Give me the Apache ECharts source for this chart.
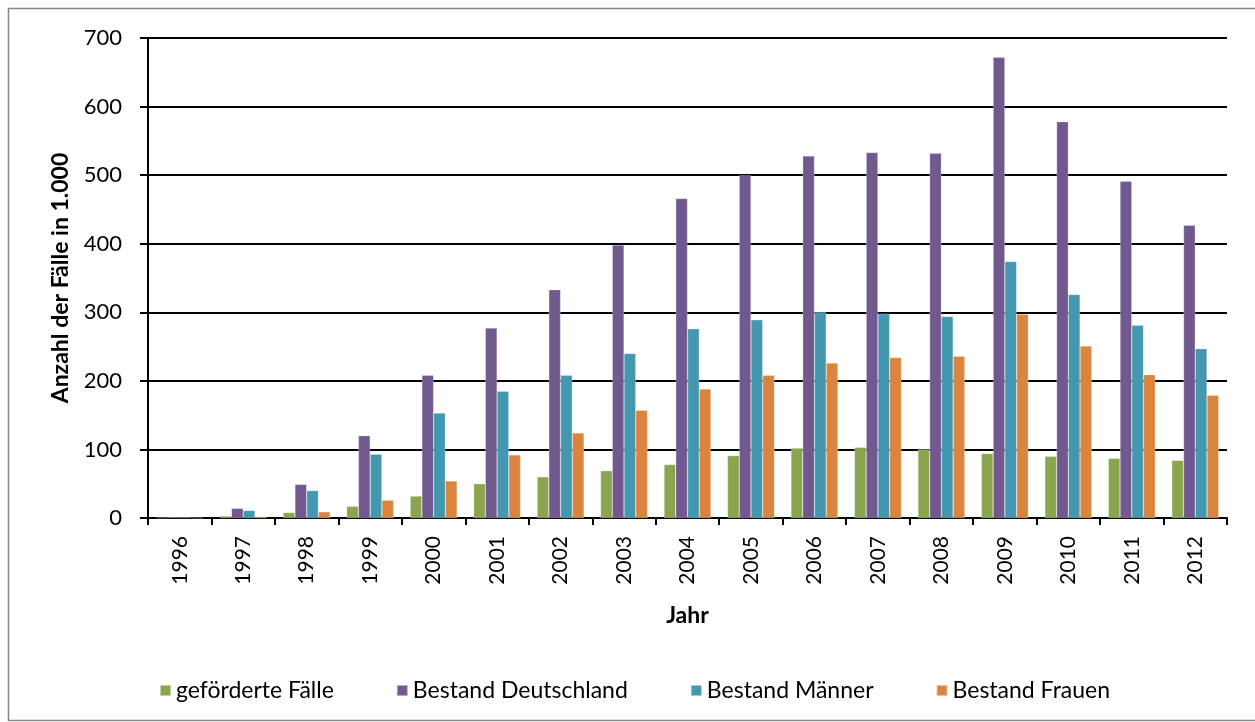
<!DOCTYPE html>
<html>
<head>
<meta charset="utf-8">
<title>Anzahl der Fälle</title>
<style>
  html, body { margin: 0; padding: 0; background: #fff; }
</style>
</head>
<body>
<div id="main" style="width:1255px;height:722px;"></div>
<script src="https://cdn.jsdelivr.net/npm/echarts@6/dist/echarts.min.js"></script>
<script>
// Jahre
var jahre = ['1996','1997','1998','1999','2000','2001','2002','2003','2004','2005','2006','2007','2008','2009','2010','2011','2012'];
// Werte in 1.000
var gefoerdert  = [0.5, 3, 8, 17, 32, 50, 60, 69, 78, 91, 102, 103, 100, 94, 90, 87, 84];
var bestandDE   = [1.5, 14, 49, 120, 208, 277, 333, 398, 466, 500, 528, 533, 532, 672, 578, 491, 427];
var maenner     = [1, 11, 40, 93, 153, 185, 208, 240, 276, 289, 300, 298, 294, 374, 326, 281, 247];
var frauen      = [0.3, 2, 9, 26, 54, 92, 124, 157, 188, 208, 226, 234, 236, 297, 251, 209, 179];

var farben = ['#8ba54e', '#71588f', '#4398af', '#db843d'];
var schrift = 'Lato, "Open Sans", sans-serif';

var myChart = echarts.init(document.getElementById('main'));

function reihe(name, data) {
  return {
    name: name,
    type: 'bar',
    data: data,
    barGap: 0,
    barCategoryGap: '26%',
    itemStyle: { borderColor: 'rgba(255,255,255,0.5)', borderWidth: 0.5 }
  };
}

myChart.setOption({
  animation: false,
  color: farben,
  textStyle: { fontFamily: schrift, color: '#000' },
  // Rahmen
  graphic: [{
    type: 'rect',
    shape: { x: 8.5, y: 8.5, width: 1260, height: 712 },
    style: { fill: 'none', stroke: '#888', lineWidth: 1.5 },
    silent: true
  }],
  grid: { left: 148, right: 28, top: 38, bottom: 204 },
  legend: {
    left: 154,
    top: 674,
    itemWidth: 11,
    itemHeight: 11,
    itemGap: 62,
    icon: 'rect',
    textStyle: { fontSize: 23, color: '#000', fontFamily: schrift },
    data: ['geförderte Fälle', 'Bestand Deutschland', 'Bestand Männer', 'Bestand Frauen']
  },
  xAxis: {
    type: 'category',
    data: jahre,
    name: 'Jahr',
    nameLocation: 'middle',
    nameGap: 86,
    nameTextStyle: { fontSize: 23, fontWeight: 'bold', color: '#000' },
    axisLine: { lineStyle: { color: '#000', width: 2 } },
    axisTick: { show: true, length: 7, lineStyle: { color: '#000', width: 2 } },
    axisLabel: { rotate: 90, fontSize: 21, color: '#000', margin: 18 }
  },
  yAxis: {
    type: 'value',
    min: 0,
    max: 700,
    interval: 100,
    name: 'Anzahl der Fälle in 1.000',
    nameLocation: 'middle',
    nameRotate: 90,
    nameGap: 76,
    nameTextStyle: { fontSize: 23, fontWeight: 'bold', color: '#000' },
    axisLine: { show: true, lineStyle: { color: '#000', width: 2 } },
    axisTick: { show: true, inside: false, length: 8, lineStyle: { color: '#000', width: 2 } },
    axisLabel: { fontSize: 22, color: '#000', margin: 26 },
    splitLine: { lineStyle: { color: '#000', width: 2 } }
  },
  series: [
    reihe('geförderte Fälle', gefoerdert),
    reihe('Bestand Deutschland', bestandDE),
    reihe('Bestand Männer', maenner),
    reihe('Bestand Frauen', frauen)
  ]
});
</script>
</body>
</html>
